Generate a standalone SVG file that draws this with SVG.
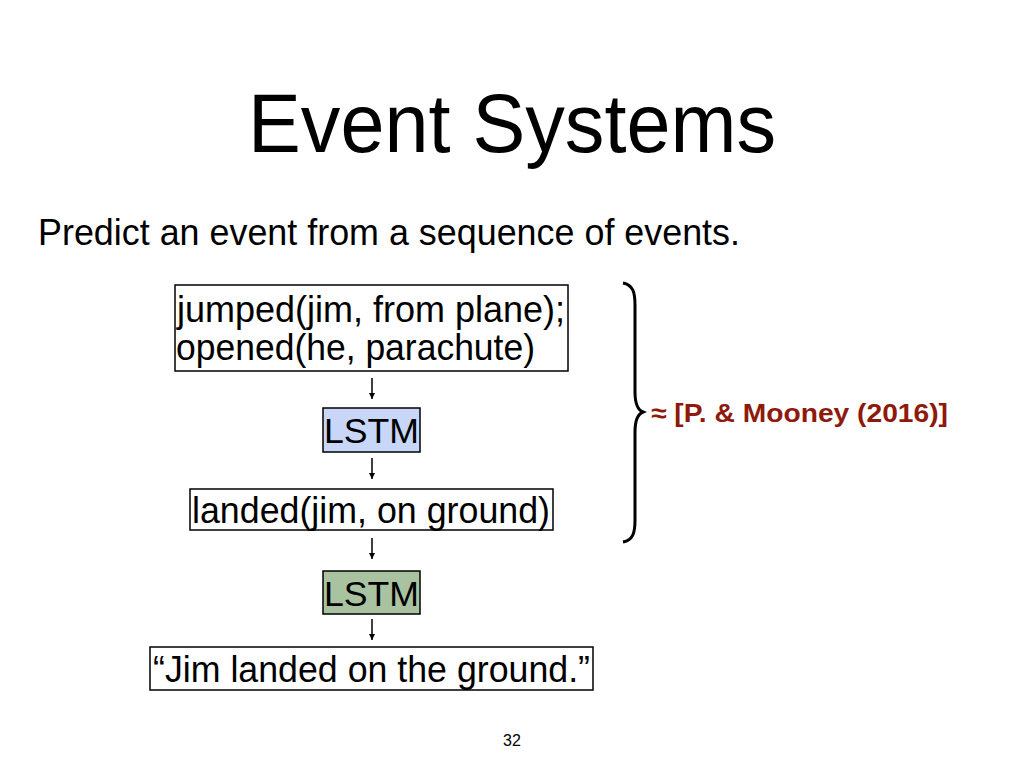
<svg xmlns="http://www.w3.org/2000/svg" width="1024" height="768" viewBox="0 0 1024 768">
<defs>
<style>
text{font-family:"Liberation Sans",Arial,Helvetica,sans-serif;fill:#000}
.box{fill:#fff;stroke:#000;stroke-width:1.5}
.lbl{font-size:37px}
.con{stroke:#000;stroke-width:1.5;fill:none}
</style>
<marker id="ah" markerWidth="8" markerHeight="8" refX="7" refY="4" orient="auto" markerUnits="userSpaceOnUse" viewBox="0 0 8 8">
<path d="M1,1 L7,4 L1,7 Z" fill="#000"/>
</marker>
</defs>
<rect width="1024" height="768" fill="#fff"/>
<text x="248" y="152" font-size="84" textLength="528" lengthAdjust="spacingAndGlyphs">Event Systems</text>
<text x="38" y="245" font-size="36" textLength="702" lengthAdjust="spacingAndGlyphs">Predict an event from a sequence of events.</text>
<g id="node-events">
<rect class="box" x="175" y="285" width="393" height="86"/>
<text class="lbl" x="177" y="322" textLength="388" lengthAdjust="spacingAndGlyphs">jumped(jim, from plane);</text>
<text class="lbl" x="176" y="360" textLength="359" lengthAdjust="spacingAndGlyphs">opened(he, parachute)</text>
</g>
<g id="node-lstm1">
<rect x="323" y="408" width="97" height="44" fill="#c8d7f8" stroke="#000" stroke-width="1.5"/>
<text x="324" y="443" font-size="35" textLength="95" lengthAdjust="spacingAndGlyphs">LSTM</text>
</g>
<g id="node-landed">
<rect class="box" x="190" y="489" width="363" height="41"/>
<text class="lbl" x="192" y="523" textLength="358" lengthAdjust="spacingAndGlyphs">landed(jim, on ground)</text>
</g>
<g id="node-lstm2">
<rect x="323" y="571" width="97" height="43" fill="#a9c3a1" stroke="#000" stroke-width="1.5"/>
<text x="324" y="606" font-size="35" textLength="95" lengthAdjust="spacingAndGlyphs">LSTM</text>
</g>
<g id="node-sentence">
<rect class="box" x="150" y="647" width="443" height="43"/>
<text class="lbl" x="153" y="682" textLength="437" lengthAdjust="spacingAndGlyphs">“Jim landed on the ground.”</text>
</g>
<g id="connectors">
<line class="con" x1="372" y1="378" x2="372" y2="399" marker-end="url(#ah)"/>
<line class="con" x1="372" y1="458" x2="372" y2="479" marker-end="url(#ah)"/>
<line class="con" x1="372" y1="538" x2="372" y2="559" marker-end="url(#ah)"/>
<line class="con" x1="372" y1="619" x2="372" y2="640" marker-end="url(#ah)"/>
</g>
<g id="brace">
<path d="M623,283 C633,285 635,292 635,305 L635,392 C635,404 638,410 643,412 C638,414 635,420 635,432 L635,520 C635,533 633,540 623,542" fill="none" stroke="#000" stroke-width="3"/>
</g>
<g id="citation">
<text x="651" y="422" font-size="26" font-weight="bold" style="fill:#8e1a0b" textLength="297" lengthAdjust="spacingAndGlyphs">≈ [P. &amp; Mooney (2016)]</text>
</g>
<text x="512" y="746" font-size="16" text-anchor="middle">32</text>
</svg>
